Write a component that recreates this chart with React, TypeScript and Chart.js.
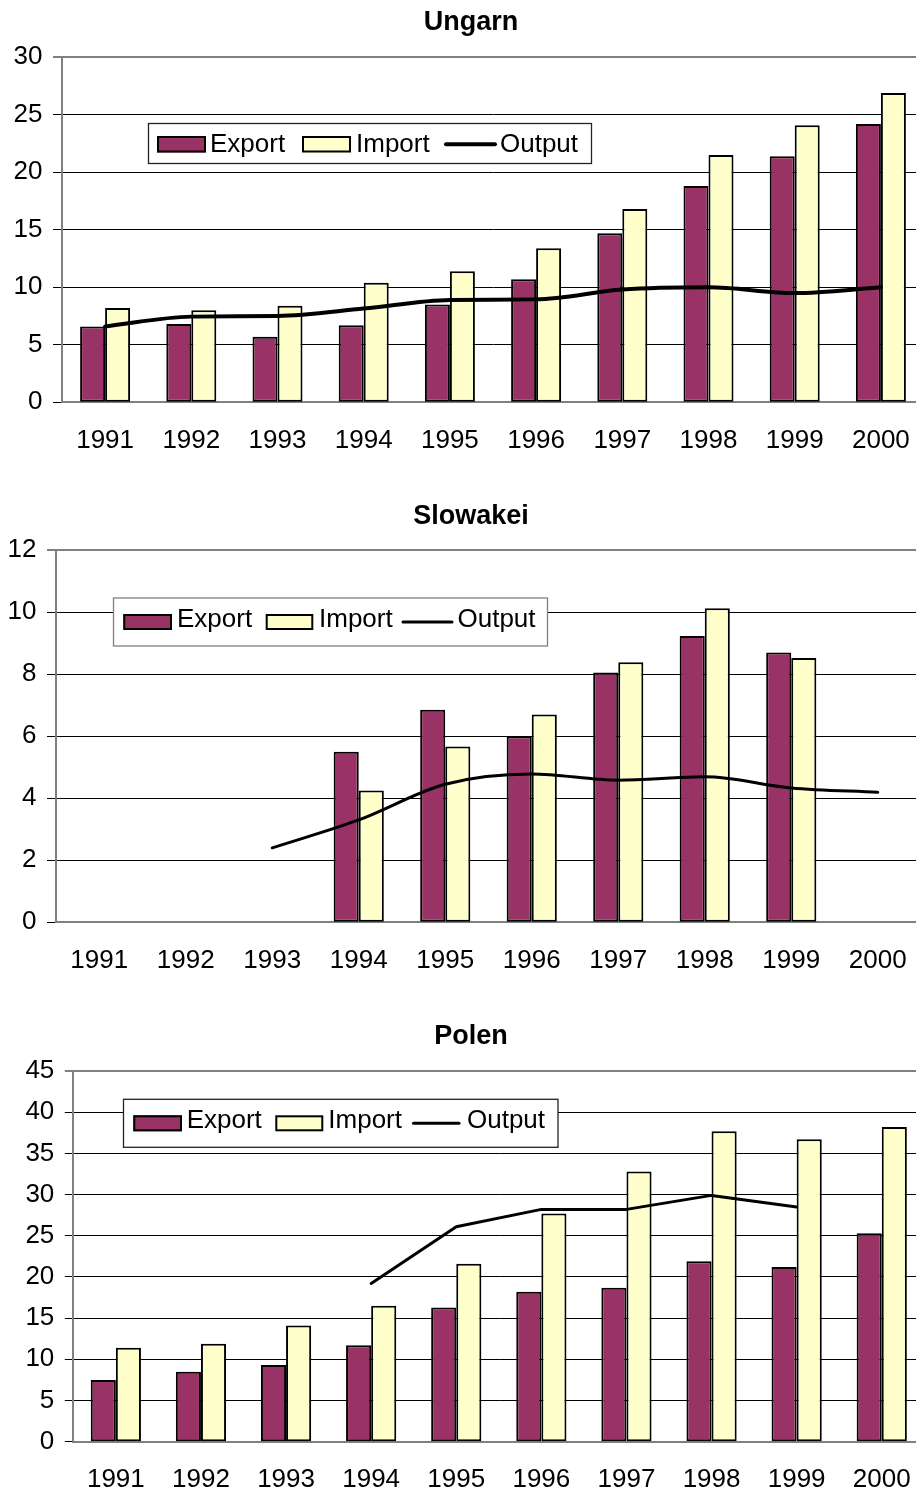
import React, { useEffect, useRef } from "react";
import { Chart, registerables } from "chart.js";
Chart.register(...registerables);

const FONT = "'Liberation Sans', Arial, sans-serif";

const years = ["1991", "1992", "1993", "1994", "1995", "1996", "1997", "1998", "1999", "2000"];

const ungarnExport = [6.6, 6.8, 5.7, 6.7, 8.5, 10.7, 14.7, 18.8, 21.4, 24.2];
const ungarnImport = [8.2, 8.0, 8.4, 10.4, 11.4, 13.4, 16.8, 21.5, 24.1, 26.9];
const ungarnOutput = [6.6, 7.45, 7.5, 8.15, 8.9, 8.95, 9.8, 10.0, 9.5, 10.0];

const slowakeiExport = [null, null, null, 5.5, 6.85, 6.0, 8.05, 9.23, 8.7, null];
const slowakeiImport = [null, null, null, 4.25, 5.67, 6.7, 8.38, 10.12, 8.52, null];
const slowakeiOutput = [null, null, 2.4, 3.3, 4.45, 4.78, 4.58, 4.69, 4.33, 4.19];

const polenExport = [7.5, 8.5, 9.3, 11.7, 16.3, 18.2, 18.7, 21.9, 21.2, 25.3];
const polenImport = [11.4, 11.9, 14.1, 16.5, 21.6, 27.7, 32.8, 37.7, 36.7, 38.2];
const polenOutput = [null, null, null, 19.2, 26.1, 28.2, 28.2, 29.9, 28.5, null];

const CANVAS_W = 942;
const TITLE_CENTER_X = 471;

type LegendCfg = {
  box: { x: number; y: number; w: number; h: number; color: string };
  swY: number;
  swH: number;
  baseline: number;
  exportSw: [number, number];
  exportText: number;
  importSw: [number, number];
  importText: number;
  line: [number, number];
  outputText: number;
};

type Props = {
  top: number;
  height: number;
  title: string;
  exp: (number | null)[];
  imp: (number | null)[];
  out: (number | null)[];
  max: number;
  step: number;
  titleC: number;
  plotTop: number;
  plotBottom: number;
  left: number;
  right: number;
  lineWidth: number;
  smooth: boolean;
  catPct: number;
  tickLen: number;
  legend: LegendCfg;
};

function CountryChart(p: Props) {
  const ref = useRef<HTMLCanvasElement | null>(null);
  useEffect(() => {
    if (!ref.current) return;
    const L = p.legend;
    const padRight = CANVAS_W - p.right;

    const titlePlugin = {
      id: "centeredTitle",
      afterDraw(chart: any) {
        const ctx = chart.ctx as CanvasRenderingContext2D;
        ctx.save();
        ctx.fillStyle = "#000";
        ctx.font = `bold 27px ${FONT}`;
        ctx.textAlign = "center";
        ctx.textBaseline = "middle";
        ctx.fillText(p.title, TITLE_CENTER_X, p.titleC);
        ctx.restore();
      },
    };

    const legendPlugin = {
      id: "boxLegend",
      afterDatasetsDraw(chart: any) {
        const ctx = chart.ctx as CanvasRenderingContext2D;
        const ds = chart.data.datasets;
        ctx.save();
        ctx.fillStyle = "#ffffff";
        ctx.fillRect(L.box.x, L.box.y, L.box.w, L.box.h);
        ctx.strokeStyle = L.box.color;
        ctx.lineWidth = 1.3;
        ctx.strokeRect(L.box.x, L.box.y, L.box.w, L.box.h);
        const drawSw = (x0: number, x1: number, fill: string) => {
          ctx.fillStyle = fill;
          ctx.fillRect(x0, L.swY, x1 - x0, L.swH);
          ctx.strokeStyle = "#000";
          ctx.lineWidth = 2;
          ctx.strokeRect(x0 + 1, L.swY + 1, x1 - x0 - 2, L.swH - 2);
        };
        drawSw(L.exportSw[0], L.exportSw[1], ds[1].backgroundColor);
        drawSw(L.importSw[0], L.importSw[1], ds[2].backgroundColor);
        ctx.strokeStyle = "#000";
        ctx.lineWidth = p.lineWidth;
        ctx.lineCap = "round";
        ctx.beginPath();
        const ly = L.swY + L.swH / 2;
        ctx.moveTo(L.line[0], ly);
        ctx.lineTo(L.line[1], ly);
        ctx.stroke();
        ctx.fillStyle = "#000";
        ctx.font = `26px ${FONT}`;
        ctx.textBaseline = "alphabetic";
        ctx.textAlign = "left";
        ctx.fillText(ds[1].label, L.exportText, L.baseline);
        ctx.fillText(ds[2].label, L.importText, L.baseline);
        ctx.fillText(ds[0].label, L.outputText, L.baseline);
        ctx.restore();
      },
    };

    const chart = new Chart(ref.current, {
      type: "bar",
      data: {
        labels: years,
        datasets: [
          {
            type: "line",
            label: "Output",
            data: p.out,
            borderColor: "#000",
            backgroundColor: "#000",
            borderWidth: p.lineWidth,
            pointRadius: 0,
            fill: false,
            tension: p.smooth ? 0.3 : 0,
            cubicInterpolationMode: p.smooth ? "monotone" : "default",
            spanGaps: false,
            borderCapStyle: "round",
            borderJoinStyle: "round",
            order: 0,
          } as any,
          {
            type: "bar",
            label: "Export",
            data: p.exp,
            backgroundColor: "#993366",
            borderColor: "#000",
            borderWidth: 2,
            borderSkipped: false,
            categoryPercentage: p.catPct,
            barPercentage: 1,
            order: 1,
          } as any,
          {
            type: "bar",
            label: "Import",
            data: p.imp,
            backgroundColor: "#FFFFCC",
            borderColor: "#000",
            borderWidth: 2,
            borderSkipped: false,
            categoryPercentage: p.catPct,
            barPercentage: 1,
            order: 2,
          } as any,
        ],
      },
      options: {
        responsive: false,
        maintainAspectRatio: false,
        animation: false,
        events: [],
        layout: { padding: { left: 0, right: padRight, top: p.plotTop, bottom: 0 } },
        plugins: {
          legend: { display: false },
          tooltip: { enabled: false },
          title: { display: false },
        },
        scales: {
          x: {
            grid: { display: false, drawTicks: false },
            border: { display: true, color: "#808080", width: 2 },
            ticks: {
              color: "#000",
              font: { family: FONT, size: 26 },
              padding: 22.5,
              autoSkip: false,
              maxRotation: 0,
              minRotation: 0,
            },
            afterFit: (s: any) => {
              s.height = p.height - p.plotBottom;
            },
          },
          y: {
            min: 0,
            max: p.max,
            ticks: {
              stepSize: p.step,
              color: "#000",
              font: { family: FONT, size: 26 },
              padding: 10.5,
            },
            grid: {
              color: (c: any) => (c.tick && c.tick.value === p.max ? "#808080" : "#000"),
              lineWidth: (c: any) => (c.tick && c.tick.value === p.max ? 2 : 1),
              tickLength: p.tickLen,
              tickColor: "#000",
              tickWidth: 1,
            },
            border: { display: true, color: "#808080", width: 2 },
            afterFit: (s: any) => {
              s.width = p.left;
            },
          },
        },
      } as any,
      plugins: [legendPlugin, titlePlugin],
    });
    return () => chart.destroy();
  }, []);

  return (
    <div style={{ position: "absolute", left: 0, top: p.top, width: CANVAS_W, height: p.height }}>
      <canvas
        ref={ref}
        width={CANVAS_W}
        height={p.height}
        style={{ width: CANVAS_W, height: p.height, display: "block" }}
      />
    </div>
  );
}

export default function App() {
  useEffect(() => {
    document.body.style.overflow = "hidden";
    document.documentElement.style.overflow = "hidden";
  }, []);
  return (
    <div
      style={{
        position: "absolute",
        left: 0,
        top: 0,
        width: 916,
        height: 1493,
        overflow: "hidden",
        background: "#fff",
      }}
    >
      <CountryChart
        top={0}
        height={480}
        title="Ungarn"
        exp={ungarnExport}
        imp={ungarnImport}
        out={ungarnOutput}
        max={30}
        step={5}
        titleC={23}
        plotTop={57.3}
        plotBottom={402.3}
        left={62}
        right={924}
        lineWidth={4}
        smooth={true}
        catPct={0.58}
        tickLen={9}
        legend={{
          box: { x: 148.5, y: 123.5, w: 443, h: 40, color: "#222" },
          swY: 136,
          swH: 16.5,
          baseline: 152.3,
          exportSw: [157, 206],
          exportText: 210,
          importSw: [302, 351],
          importText: 356,
          line: [446, 495],
          outputText: 500,
        }}
      />
      <CountryChart
        top={490}
        height={500}
        title="Slowakei"
        exp={slowakeiExport}
        imp={slowakeiImport}
        out={slowakeiOutput}
        max={12}
        step={2}
        titleC={26.5}
        plotTop={60}
        plotBottom={432.3}
        left={56}
        right={921}
        lineWidth={3}
        smooth={true}
        catPct={0.58}
        tickLen={9}
        legend={{
          box: { x: 113.5, y: 108, w: 434, h: 48, color: "#808080" },
          swY: 124,
          swH: 16,
          baseline: 136.7,
          exportSw: [123.3, 172],
          exportText: 177,
          importSw: [265.7, 313.3],
          importText: 319,
          line: [403, 452],
          outputText: 457.5,
        }}
      />
      <CountryChart
        top={1005}
        height={488}
        title="Polen"
        exp={polenExport}
        imp={polenImport}
        out={polenOutput}
        max={45}
        step={5}
        titleC={31.5}
        plotTop={66}
        plotBottom={436.7}
        left={73.3}
        right={924.3}
        lineWidth={3}
        smooth={false}
        catPct={0.59}
        tickLen={8.5}
        legend={{
          box: { x: 123.5, y: 94.3, w: 434.5, h: 48, color: "#222" },
          swY: 110.3,
          swH: 16,
          baseline: 123.3,
          exportSw: [133.3, 182],
          exportText: 186.7,
          importSw: [275.3, 323.3],
          importText: 328.3,
          line: [413.5, 459],
          outputText: 467,
        }}
      />
    </div>
  );
}
